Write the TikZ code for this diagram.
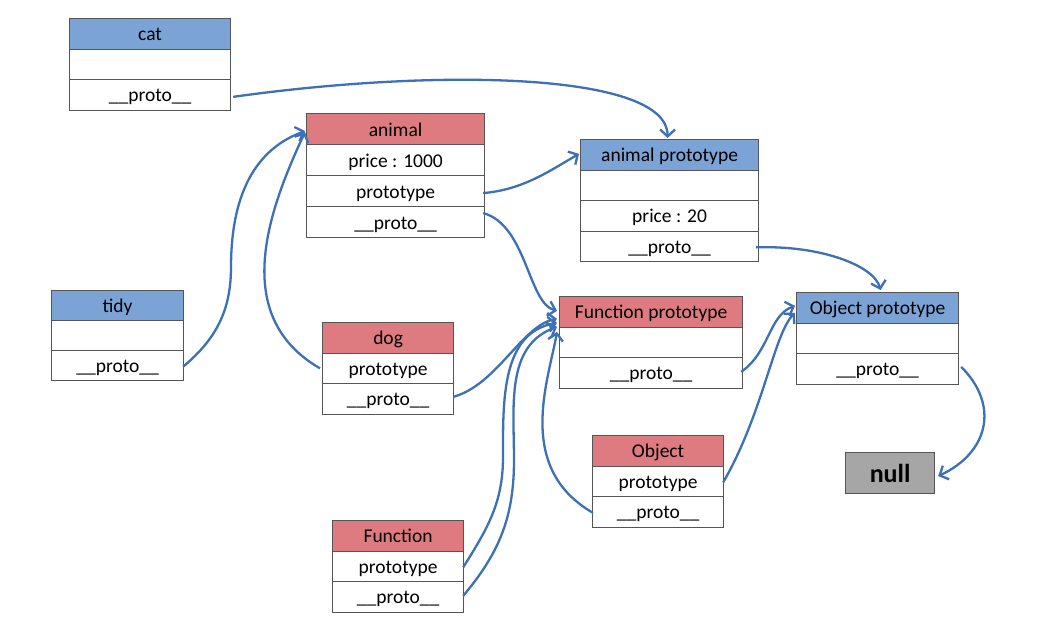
\documentclass[tikz,border=0pt]{standalone}
\usepackage{fontspec}
\setmainfont{Carlito}
\usetikzlibrary{arrows.meta}
\definecolor{hblue}{RGB}{124,163,214}
\definecolor{hred}{RGB}{222,123,128}
\definecolor{nullgray}{RGB}{166,166,166}
\definecolor{linkcol}{RGB}{62,112,184}
\definecolor{edgecol}{RGB}{85,85,85}
\begin{document}
\begin{tikzpicture}[x=1pt,y=1pt,
  cell/.style={draw=edgecol, line width=1.2pt, inner sep=0pt, anchor=north west,
    minimum height=30.5pt, text height=16pt, text depth=2pt,
    font=\fontsize{19.5}{22}\selectfont},
  bluehead/.style={cell, fill=hblue},
  redhead/.style={cell, fill=hred},
  nullbox/.style={draw=edgecol, line width=1.2pt, fill=nullgray, inner sep=0pt, anchor=north west,
    minimum width=89pt, minimum height=41pt, font=\fontsize{26}{28}\selectfont\bfseries},
  link/.style={draw=linkcol, line width=2.3pt,
    -{Straight Barb[length=7pt,width=15pt,line width=2.3pt]}}]
\useasboundingbox (0,0) rectangle (1061,-630);
\fill[white] (0,0) rectangle (1061,-630);

% cat
\node[bluehead, minimum width=161pt] (cat-h) at (69,-18) {cat};
\node[cell, minimum width=161pt] (cat-1) at (69,-48.5) {};
\node[cell, minimum width=161pt] (cat-2) at (69,-79) {\_\_proto\_\_};

% animal
\node[redhead, minimum width=178pt, minimum height=31pt] (an-h) at (306,-113) {animal};
\node[cell, minimum width=178pt, minimum height=31pt] (an-1) at (306,-144) {price : 1000};
\node[cell, minimum width=178pt, minimum height=31pt] (an-2) at (306,-175) {prototype};
\node[cell, minimum width=178pt, minimum height=31pt] (an-3) at (306,-206) {\_\_proto\_\_};

% animal prototype
\node[bluehead, minimum width=178pt] (ap-h) at (580,-139) {animal prototype};
\node[cell, minimum width=178pt] (ap-1) at (580,-169.5) {};
\node[cell, minimum width=178pt] (ap-2) at (580,-200) {price : 20};
\node[cell, minimum width=178pt] (ap-3) at (580,-230.5) {\_\_proto\_\_};

% tidy
\node[bluehead, minimum width=132pt, minimum height=30pt] (td-h) at (51,-290) {tidy};
\node[cell, minimum width=132pt, minimum height=30pt] (td-1) at (51,-320) {};
\node[cell, minimum width=132pt, minimum height=30pt] (td-2) at (51,-350) {\_\_proto\_\_};

% dog
\node[redhead, minimum width=131pt] (dg-h) at (322,-322) {dog};
\node[cell, minimum width=131pt] (dg-1) at (322,-352.5) {prototype};
\node[cell, minimum width=131pt] (dg-2) at (322,-383) {\_\_proto\_\_};

% Function prototype
\node[redhead, minimum width=183pt] (fp-h) at (559,-296) {Function prototype};
\node[cell, minimum width=183pt] (fp-1) at (559,-326.5) {};
\node[cell, minimum width=183pt] (fp-2) at (559,-357) {\_\_proto\_\_};

% Object prototype
\node[bluehead, minimum width=162pt] (op-h) at (796,-292) {Object prototype};
\node[cell, minimum width=162pt] (op-1) at (796,-322.5) {};
\node[cell, minimum width=162pt] (op-2) at (796,-353) {\_\_proto\_\_};

% Object
\node[redhead, minimum width=131pt] (ob-h) at (592,-435) {Object};
\node[cell, minimum width=131pt] (ob-1) at (592,-465.5) {prototype};
\node[cell, minimum width=131pt] (ob-2) at (592,-496) {\_\_proto\_\_};

% Function
\node[redhead, minimum width=131pt] (fn-h) at (332,-520) {Function};
\node[cell, minimum width=131pt] (fn-1) at (332,-550.5) {prototype};
\node[cell, minimum width=131pt] (fn-2) at (332,-581) {\_\_proto\_\_};

% null
\node[nullbox] (null) at (845,-452) {null};

% connectors
\draw[link] ([xshift=2pt,yshift=-2pt]cat-2.east) to[out=8,in=90,out distance=210pt,in distance=65pt] ([xshift=-2pt,yshift=1pt]ap-h.north);
\draw[link] ([xshift=-2pt,yshift=-2pt]an-2.east) to[out=5,in=210,out distance=40pt,in distance=35pt] ([xshift=-1pt,yshift=1pt]ap-h.west);
\draw[link] ([xshift=-2pt,yshift=9pt]an-3.east) to[out=-15,in=165,out distance=45pt,in distance=30pt] ([xshift=-2pt,yshift=1pt]fp-h.west);
\draw[link] ([xshift=-1pt,yshift=-1pt]td-2.east) to[out=40,in=-90] (231,-267) to[out=90,in=200] ([xshift=-1pt,yshift=-2pt]an-h.west);
\draw[link] ([xshift=-2pt]dg-1.west) to[out=150,in=245,out distance=105pt,in distance=85pt] ([xshift=-1pt,yshift=-3pt]an-h.west);
\draw[link] ([xshift=-1pt,yshift=2pt]dg-2.east) to[out=15,in=190,out distance=45pt,in distance=35pt] ([xshift=-2pt,yshift=-7pt]fp-h.west);
\draw[link] ([xshift=-1pt,yshift=-1pt]fn-1.east) to[out=58,in=-90] (503,-457) to[out=90,in=190] ([xshift=-2pt,yshift=-11pt]fp-h.west);
\draw[link] ([xshift=-1pt,yshift=1pt]fn-2.east) to[out=50,in=-90] (514,-460) to[out=90,in=200] ([xshift=-2pt,yshift=-15pt]fp-h.west);
\draw[link] ([xshift=1pt,yshift=-1pt]ob-2.west) to[out=150,in=260,out distance=90pt,in distance=50pt] ([xshift=-2pt,yshift=-20pt]fp-h.west);
\draw[link] ([xshift=-2pt,yshift=1pt]fp-2.east) to[out=35,in=200,out distance=35pt,in distance=28pt] ([xshift=-1pt,yshift=2pt]op-h.west);
\draw[link] ([xshift=-1pt,yshift=-1pt]ob-1.east) to[out=60,in=225,out distance=80pt,in distance=30pt] ([xshift=-1pt,yshift=-5pt]op-h.west);
\draw[link] ([xshift=-3pt,yshift=-1pt]ap-3.east) to[out=2,in=105,out distance=65pt,in distance=25pt] ([xshift=3pt,yshift=2pt]op-h.north);
\draw[link] ([xshift=2pt,yshift=2pt]op-2.east) to[out=-45,in=25,out distance=55pt,in distance=55pt] ([xshift=3pt,yshift=-3pt]null.east);
\end{tikzpicture}
\end{document}
